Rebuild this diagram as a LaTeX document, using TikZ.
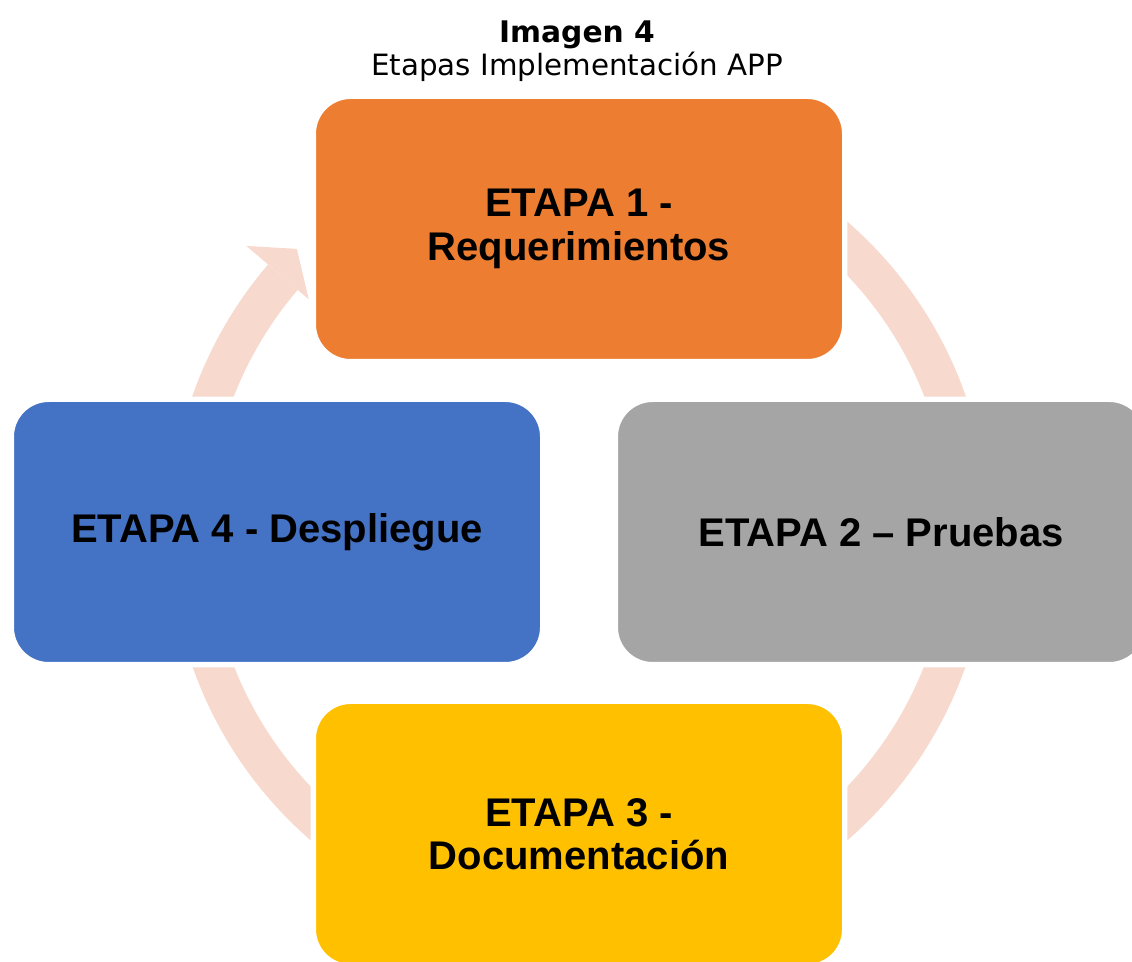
\documentclass[tikz,border=0pt]{standalone}
\usepackage{fontspec}
\setmainfont{Liberation Sans}
\newfontfamily\titulofont{DejaVu Sans}
\usetikzlibrary{calc}
\definecolor{naranja}{HTML}{ED7D31}
\definecolor{gris}{HTML}{A5A5A5}
\definecolor{amarillo}{HTML}{FFC000}
\definecolor{azul}{HTML}{4472C4}
\definecolor{aro}{RGB}{247,217,206}
\begin{document}
\begin{tikzpicture}[x=0.75pt,y=0.75pt,
  etapa/.style={rounded corners=28pt,draw=white,line width=4pt,minimum width=398.5pt,minimum height=199pt,
    align=center,font=\fontsize{30}{32.5}\selectfont\bfseries},
  ciclo/.style={draw=aro,line width=29.25pt},
  titulo/.style={anchor=base,font=\titulofont\fontsize{22}{26}\selectfont}]
\useasboundingbox (0,0) rectangle (1132,961);
\clip (0,0) rectangle (1132,961);
\node[titulo,font=\titulofont\fontsize{22.3}{26}\selectfont\bfseries] (imagen) at (577,918) {Imagen 4};
\node[titulo] (subtitulo) at (577,885) {Etapas Implementación APP};
\coordinate (centro) at (579,430);
\draw[ciclo] ($(centro)+(90:390)$) arc[start angle=90,end angle=-220.6,radius=292.5pt];
\fill[aro] ($(centro)+(139.4:438)$) -- ($(centro)+(135:399)$) -- ($(centro)+(139.4:356)$) -- cycle;
\node[etapa,fill=naranja] (etapa1) at (579,732) {ETAPA 1 -\\Requerimientos};
\node[etapa,fill=gris] (etapa2) at (881,429) {ETAPA 2 – Pruebas};
\node[etapa,fill=amarillo] (etapa3) at (579,127) {ETAPA 3 -\\Documentación};
\node[etapa,fill=azul] (etapa4) at (277,429) {ETAPA 4 - Despliegue};
\end{tikzpicture}
\end{document}
